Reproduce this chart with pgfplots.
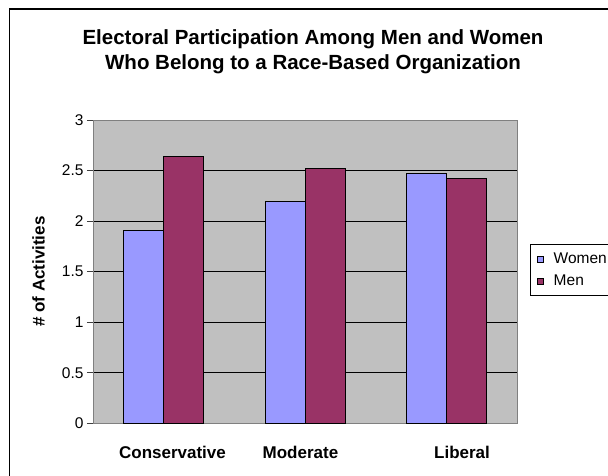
\documentclass[border=0pt]{standalone}
\usepackage{pgfplots}
\pgfplotsset{compat=1.18}
\usepackage{fontspec}
\setmainfont{Liberation Sans}

\definecolor{women}{HTML}{9999FF}
\definecolor{men}{HTML}{993366}
\definecolor{plotbg}{HTML}{C0C0C0}
\definecolor{frameline}{HTML}{808080}

\pgfplotsset{
  swatch/.style={legend image code/.code={%
      \draw[#1, line width=0.6pt] (0pt,-3pt) rectangle (6pt,3pt);}},
}

\begin{document}
\begin{tikzpicture}[x=1pt,y=1pt]
\useasboundingbox (0,0) rectangle (608,475);
% chart area frame
\draw[line width=1.2pt] (9.5,-5) -- (9.5,466) -- (620,466);
% title
\node[font=\bfseries\fontsize{20.5}{24}\selectfont, anchor=base] at (313,430)
  {Electoral Participation Among Men and Women};
\node[font=\bfseries\fontsize{20.5}{24}\selectfont, anchor=base] at (313,405)
  {Who Belong to a Race-Based Organization};

\begin{axis}[
  at={(93pt,51.7pt)}, anchor=south west,
  scale only axis, width=424pt, height=303.3pt,
  xmin=-0.5, xmax=2.5, ymin=0, ymax=3,
  axis background/.style={fill=plotbg},
  axis line style={draw=frameline, line width=1pt},
  ytick={0,0.5,1,1.5,2,2.5,3},
  yticklabels={0,0.5,1,1.5,2,2.5,3},
  yticklabel style={font=\fontsize{15.5}{18}\selectfont},
  ymajorgrids, major grid style={draw=black, line width=0.8pt},
  tick align=outside, major tick length=6pt,
  ytick pos=left, xtick pos=bottom,
  ytick style={draw=black!75, line width=0.8pt},
  xtick={0.0625,0.968,2.111},
  xticklabels={Conservative,Moderate,Liberal},
  xtick style={draw=none},
  xticklabel style={font=\bfseries\fontsize{17}{20}\selectfont, anchor=base, yshift=-29pt},
  ylabel={\# of Activities},
  ylabel style={font=\bfseries\fontsize{17}{20}\selectfont,
    at={(axis description cs:-0.1285,0.5)}, anchor=center},
  legend style={at={(rel axis cs:1.03,0.591)}, anchor=north west,
    draw=black, fill=white, line width=0.8pt,
    font=\fontsize{15.5}{18}\selectfont,
    inner xsep=7pt, inner ysep=4pt, column sep=10pt, row sep=1pt,
    nodes={inner sep=0pt, text height=15pt, text depth=6pt}},
  legend cell align=left,
]
\addplot[ybar, bar width=40pt, bar shift=-20pt, fill=women, draw=black, line width=0.8pt, swatch]
  coordinates {(0,1.91) (1,2.19) (2,2.47)};
\addplot[ybar, bar width=40pt, bar shift=20pt, fill=men, draw=black, line width=0.8pt, swatch]
  coordinates {(0,2.64) (1,2.52) (2,2.42)};
\legend{Women,Men}
\end{axis}
\end{tikzpicture}
\end{document}
